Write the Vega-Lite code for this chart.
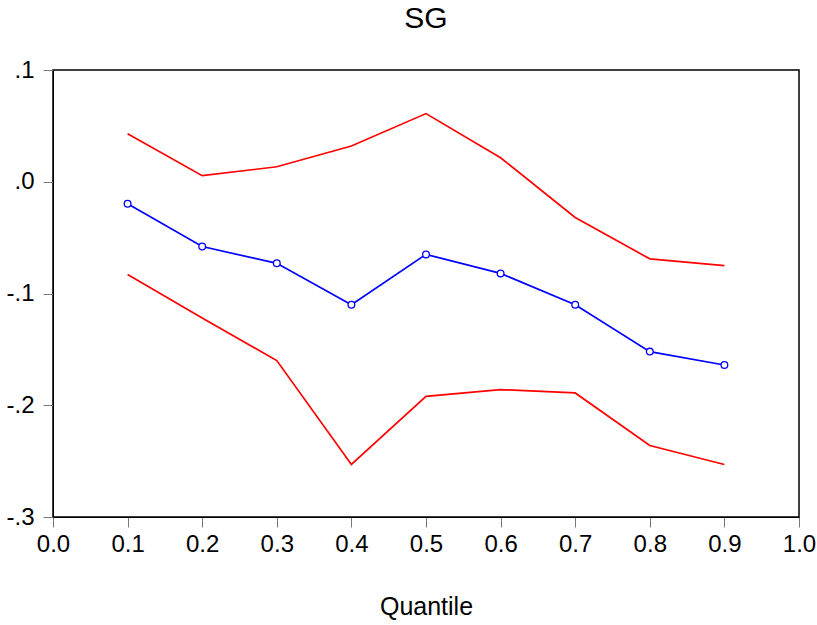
{
  "$schema": "https://vega.github.io/schema/vega-lite/v6.json",
  "width": 746,
  "height": 447,
  "autosize": {"type": "none"},
  "padding": {"left": 53, "top": 70, "right": 18, "bottom": 108},
  "background": "white",
  "title": {"text": "SG", "fontSize": 30, "font": "Liberation Sans", "fontWeight": "normal", "offset": 24, "color": "black"},
  "config": {
    "view": {"stroke": "black", "strokeWidth": 1.5},
    "axis": {"grid": false, "labelFont": "Liberation Sans", "titleFont": "Liberation Sans", "labelColor": "black", "titleColor": "black", "domainColor": "black", "tickColor": "#777", "tickSize": 10, "labelFontSize": 24, "titleFontSize": 25, "titleFontWeight": "normal", "labelFlush": false, "labelOverlap": false}
  },
  "data": {"values": [
    {"q": 0.1, "series": "est", "v": -0.0197},
    {"q": 0.2, "series": "est", "v": -0.058},
    {"q": 0.3, "series": "est", "v": -0.073},
    {"q": 0.4, "series": "est", "v": -0.110},
    {"q": 0.5, "series": "est", "v": -0.065},
    {"q": 0.6, "series": "est", "v": -0.082},
    {"q": 0.7, "series": "est", "v": -0.110},
    {"q": 0.8, "series": "est", "v": -0.152},
    {"q": 0.9, "series": "est", "v": -0.164},
    {"q": 0.1, "series": "upper", "v": 0.043},
    {"q": 0.2, "series": "upper", "v": 0.0054},
    {"q": 0.3, "series": "upper", "v": 0.0134},
    {"q": 0.4, "series": "upper", "v": 0.032},
    {"q": 0.5, "series": "upper", "v": 0.061},
    {"q": 0.6, "series": "upper", "v": 0.0215},
    {"q": 0.7, "series": "upper", "v": -0.032},
    {"q": 0.8, "series": "upper", "v": -0.069},
    {"q": 0.9, "series": "upper", "v": -0.075},
    {"q": 0.1, "series": "lower", "v": -0.083},
    {"q": 0.2, "series": "lower", "v": -0.122},
    {"q": 0.3, "series": "lower", "v": -0.160},
    {"q": 0.4, "series": "lower", "v": -0.253},
    {"q": 0.5, "series": "lower", "v": -0.192},
    {"q": 0.6, "series": "lower", "v": -0.186},
    {"q": 0.7, "series": "lower", "v": -0.189},
    {"q": 0.8, "series": "lower", "v": -0.236},
    {"q": 0.9, "series": "lower", "v": -0.253}
  ]},
  "encoding": {
    "x": {"field": "q", "type": "quantitative", "scale": {"domain": [0, 1], "nice": false, "zero": false}, "axis": {"title": "Quantile", "values": [0, 0.1, 0.2, 0.3, 0.4, 0.5, 0.6, 0.7, 0.8, 0.9, 1.0], "format": ".1f", "labelPadding": 5, "titlePadding": 38}},
    "y": {"field": "v", "type": "quantitative", "scale": {"domain": [-0.3, 0.1], "nice": false, "zero": false}, "axis": {"title": null, "values": [-0.3, -0.2, -0.1, 0, 0.1], "labelExpr": "replace(replace(format(datum.value, '.1f'), '0.', '.'), '\u2212', '-')", "labelPadding": 9}}
  },
  "layer": [
    {
      "transform": [{"filter": "datum.series !== 'est'"}],
      "mark": {"type": "line", "color": "#ff0000", "strokeWidth": 1.7},
      "encoding": {"detail": {"field": "series"}}
    },
    {
      "transform": [{"filter": "datum.series === 'est'"}],
      "mark": {"type": "line", "color": "#0000ff", "strokeWidth": 1.7}
    },
    {
      "transform": [{"filter": "datum.series === 'est'"}],
      "mark": {"type": "point", "shape": "circle", "filled": true, "fill": "white", "stroke": "#0000ff", "strokeWidth": 1.3, "size": 45, "opacity": 1}
    }
  ]
}
